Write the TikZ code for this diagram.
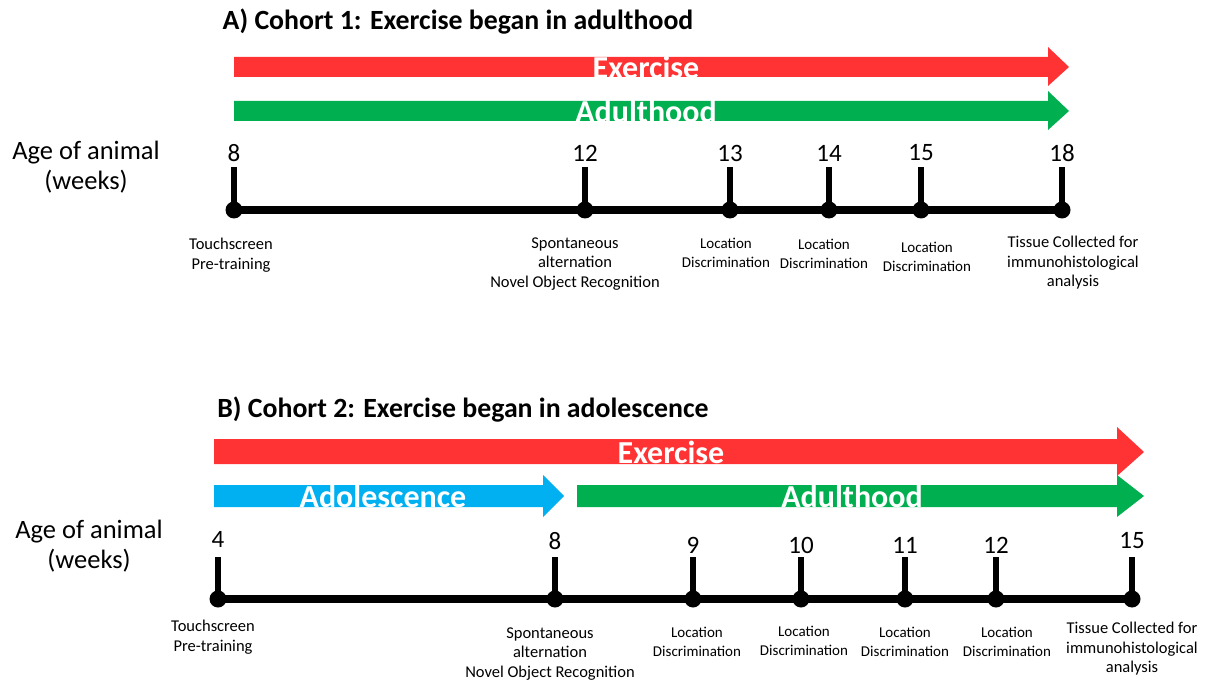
\documentclass[tikz,border=0pt]{standalone}
\usepackage{fontspec}
\setmainfont{Carlito}
\usepackage{tikz}
\usetikzlibrary{positioning,calc}

\definecolor{exred}{HTML}{FF3333}
\definecolor{adgreen}{HTML}{00B050}
\definecolor{adblue}{HTML}{00B0F0}

\tikzset{
    cohort/.style={font=\fontsize{27.8}{32}\selectfont\bfseries, inner sep=0pt},
    barlabel/.style={text=white, font=\fontsize{32}{36}\selectfont\bfseries, inner sep=0pt},
    agelabel/.style={align=center, font=\fontsize{26.5}{30}\selectfont, inner sep=0pt},
    weeknum/.style={font=\fontsize{25}{28}\selectfont, inner sep=0pt},
    event/.style={align=center, font=\fontsize{16.5}{19.5}\selectfont, inner sep=0pt},
    locevent/.style={event, font=\fontsize{15}{19}\selectfont},
    timeline/.style={line width=8pt},
    tickmark/.style={line width=6pt},
}

\begin{document}
\begin{tikzpicture}[x=1pt, y=-1pt]
    \useasboundingbox (0,0) rectangle (1215,687);

    % A) cohort 1
    \node[cohort] (titleA) at (458,22) {A) Cohort 1: Exercise began in adulthood};

    \fill[exred] (234,57) -- (1048,57) -- (1048,47) -- (1069,67) -- (1048,86) -- (1048,77) -- (234,77) -- cycle;
    \node[barlabel] (exA) at (646,67) {Exercise};
    \fill[adgreen] (234,101) -- (1048,101) -- (1048,91) -- (1069,111) -- (1048,130) -- (1048,121) -- (234,121) -- cycle;
    \node[barlabel] (adultA) at (646,111) {Adulthood};

    \node[agelabel] (ageA) at (86,167) {Age of animal\\(weeks)};

    \foreach \x/\w in {234/8, 585/12, 730/13, 829/14, 921/15, 1062/18} {
        \coordinate (a\w) at (\x,210);
        \coordinate (at\w) at (\x,167);
        \node[weeknum] (na\w) at (\x,153) {\w};
        \draw[tickmark] (a\w) -- (at\w);
    }
    \draw[timeline] (a8) -- (a18);
    \foreach \w in {8,12,13,14,15,18}
        \fill (a\w) circle (8.5);

    \node[event] (ea8) at (231,255) {Touchscreen\\Pre-training};
    \node[event] (ea12) at (575,264) {Spontaneous\\alternation\\Novel Object Recognition};
    \node[locevent] (ea13) at (726,253) {Location\\Discrimination};
    \node[locevent] (ea14) at (824,254) {Location\\Discrimination};
    \node[locevent] (ea15) at (927,257) {Location\\Discrimination};
    \node[event] (ea18) at (1073,263) {Tissue Collected for\\immunohistological\\analysis};

    % B) cohort 2
    \node[cohort] (titleB) at (463,410) {B) Cohort 2: Exercise began in adolescence};

    \fill[exred] (214,439) -- (1117,439) -- (1117,427) -- (1144,452) -- (1117,476) -- (1117,464) -- (214,464) -- cycle;
    \node[barlabel] (exB) at (671,452) {Exercise};
    \fill[adblue] (214,485) -- (543,485) -- (543,475) -- (564,496) -- (543,517) -- (543,507) -- (214,507) -- cycle;
    \node[barlabel] (adolB) at (383,496) {Adolescence};
    \fill[adgreen] (577,485) -- (1117,485) -- (1117,475) -- (1144,496) -- (1117,517) -- (1117,507) -- (577,507) -- cycle;
    \node[barlabel] (adultB) at (852,496) {Adulthood};

    \node[agelabel] (ageB) at (89,546) {Age of animal\\(weeks)};

    \foreach \x/\w/\ny in {218/4/539, 555/8/541, 693/9/545, 801/10/545, 905/11/545, 996/12/545, 1132/15/541} {
        \coordinate (b\w) at (\x,599);
        \coordinate (bt\w) at (\x,557);
        \node[weeknum] (nb\w) at (\x,\ny) {\w};
        \draw[tickmark] (b\w) -- (bt\w);
    }
    \draw[timeline] (b4) -- (b15);
    \foreach \w in {4,8,9,10,11,12,15}
        \fill (b\w) circle (8.5);

    \node[event] (eb4) at (213,637) {Touchscreen\\Pre-training};
    \node[event] (eb8) at (550,654) {Spontaneous\\alternation\\Novel Object Recognition};
    \node[locevent] (eb9) at (697,642) {Location\\Discrimination};
    \node[locevent] (eb10) at (804,641) {Location\\Discrimination};
    \node[locevent] (eb11) at (905,642) {Location\\Discrimination};
    \node[locevent] (eb12) at (1007,642) {Location\\Discrimination};
    \node[event] (eb15) at (1132,649) {Tissue Collected for\\immunohistological\\analysis};
\end{tikzpicture}
\end{document}
